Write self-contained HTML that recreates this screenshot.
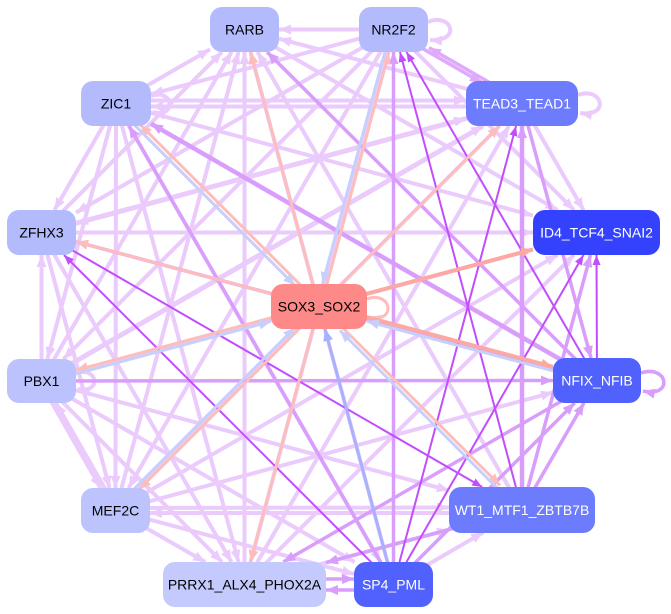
<!DOCTYPE html>
<html><head><meta charset="utf-8"><style>
html,body{margin:0;padding:0;background:#fff;}
svg{display:block;}
.l{stroke:#eacbfc;stroke-width:4;fill:none}
.lt{stroke:#eacbfc;stroke-width:5;fill:none}
.m{stroke:#d99dfc;stroke-width:3.5;fill:none}
.mt{stroke:#d99dfc;stroke-width:4.5;fill:none}
.ml{stroke:#dfaafc;stroke-width:3.5;fill:none}
.d{stroke:#c14dfc;stroke-width:2;fill:none}
.p{stroke:#fdbdbb;stroke-width:3;fill:none}
.pt{stroke:#fca9a3;stroke-width:4;fill:none}
.b{stroke:#c7cffc;stroke-width:3;fill:none}
.bm{stroke:#a8b1fd;stroke-width:3;fill:none}
text{font-family:"Liberation Sans",Arial,sans-serif;font-size:14px;text-anchor:middle;dominant-baseline:central}
</style></head><body>
<svg width="671" height="614" viewBox="0 0 671 614" xmlns="http://www.w3.org/2000/svg">
<defs>
<marker id="aL" markerUnits="userSpaceOnUse" markerWidth="13" markerHeight="11" refX="12" refY="5" orient="auto"><path d="M0,0 L12,5 L0,10 z" fill="#eacbfc"/></marker>
<marker id="aM" markerUnits="userSpaceOnUse" markerWidth="13" markerHeight="11" refX="12" refY="5" orient="auto"><path d="M0,0 L12,5 L0,10 z" fill="#d99dfc"/></marker>
<marker id="aML" markerUnits="userSpaceOnUse" markerWidth="13" markerHeight="11" refX="12" refY="5" orient="auto"><path d="M0,0 L12,5 L0,10 z" fill="#dfaafc"/></marker>
<marker id="aD" markerUnits="userSpaceOnUse" markerWidth="11" markerHeight="9" refX="10" refY="4" orient="auto"><path d="M0,0 L10,4 L0,8 z" fill="#c14dfc"/></marker>
<marker id="aP" markerUnits="userSpaceOnUse" markerWidth="13" markerHeight="11" refX="12" refY="5" orient="auto"><path d="M0,0 L12,5 L0,10 z" fill="#fdbdbb"/></marker>
<marker id="aPT" markerUnits="userSpaceOnUse" markerWidth="13" markerHeight="11" refX="12" refY="5" orient="auto"><path d="M0,0 L12,5 L0,10 z" fill="#fca9a3"/></marker>
<marker id="aB" markerUnits="userSpaceOnUse" markerWidth="13" markerHeight="11" refX="12" refY="5" orient="auto"><path d="M0,0 L12,5 L0,10 z" fill="#c7cffc"/></marker>
<marker id="aBM" markerUnits="userSpaceOnUse" markerWidth="13" markerHeight="11" refX="12" refY="5" orient="auto"><path d="M0,0 L12,5 L0,10 z" fill="#a8b1fd"/></marker>
</defs>

<!-- light lavender edges -->
<g marker-end="url(#aL)">
<line class="l" x1="393.5" y1="29.5" x2="279" y2="29.5"/>
<line class="l" x1="522" y1="103.5" x2="279" y2="38.7"/>
<line class="l" x1="116" y1="103.5" x2="210" y2="49.4"/>
<line class="l" x1="244.5" y1="29.5" x2="557.4" y2="210"/>
<line class="l" x1="522" y1="510" x2="257.5" y2="52"/>
<line class="l" x1="393.5" y1="584.5" x2="250.5" y2="52"/>
<line class="l" x1="244.5" y1="584.5" x2="244.5" y2="52"/>
<line class="l" x1="115.5" y1="510.5" x2="238.5" y2="52"/>
<line class="l" x1="41.5" y1="381" x2="231.5" y2="52"/>
<line class="l" x1="41.5" y1="232.5" x2="222" y2="52"/>
<line class="l" x1="393.5" y1="29.5" x2="574" y2="210"/>
<line class="l" x1="244.5" y1="584.5" x2="387.5" y2="52"/>
<line class="l" x1="393.5" y1="29.5" x2="128.5" y2="488"/>
<line class="l" x1="393.5" y1="29.5" x2="63.5" y2="359"/>
<line class="l" x1="393.5" y1="29.5" x2="76" y2="212.6"/>
<line class="l" x1="393.5" y1="29.5" x2="151" y2="94.2"/>
<line class="l" x1="522" y1="103.5" x2="583.5" y2="210"/>
<line class="l" x1="244.5" y1="584.5" x2="509" y2="126"/>
<line class="l" x1="115.5" y1="510.5" x2="499.5" y2="126"/>
<line class="lt" x1="41.5" y1="381" x2="483" y2="126"/>
<line class="lt" x1="41.5" y1="232.5" x2="466" y2="118.5"/>
<line class="l" x1="522" y1="103.5" x2="76" y2="223.2"/>
<line class="l" x1="116" y1="100.5" x2="466" y2="100.5"/>
<line class="l" x1="522" y1="106.5" x2="151" y2="106.5"/>
<line class="l" x1="244.5" y1="584.5" x2="574" y2="255"/>
<line class="l" x1="115.5" y1="510.5" x2="557.5" y2="255"/>
<line class="l" x1="41.5" y1="381" x2="533" y2="249.5"/>
<line class="l" x1="41.5" y1="232.5" x2="533" y2="232.5"/>
<line class="l" x1="116" y1="103.5" x2="533" y2="215.5"/>
<line class="l" x1="115.5" y1="510.5" x2="553" y2="392.4"/>
<line class="l" x1="393.5" y1="584.5" x2="483.2" y2="532.5"/>
<line class="l" x1="244.5" y1="584.5" x2="449" y2="529.6"/>
<line class="l" x1="115.5" y1="508" x2="449" y2="507.5"/>
<line class="l" x1="522" y1="513" x2="150" y2="513"/>
<line class="l" x1="41.5" y1="381" x2="449" y2="490.4"/>
<line class="l" x1="115.5" y1="510.5" x2="354" y2="574"/>
<line class="l" x1="41.5" y1="381" x2="354.6" y2="562"/>
<line class="l" x1="116" y1="103.5" x2="380.5" y2="562"/>
<line class="l" x1="115.5" y1="510.5" x2="205.3" y2="562"/>
<line class="l" x1="41.5" y1="381" x2="222" y2="562"/>
<line class="l" x1="41.5" y1="232.5" x2="231.5" y2="562"/>
<line class="l" x1="116" y1="103.5" x2="238.5" y2="562"/>
<line class="l" x1="39.5" y1="381" x2="100.6" y2="488"/>
<line class="l" x1="117.5" y1="510.5" x2="56" y2="403"/>
<line class="l" x1="41.5" y1="232.5" x2="109.5" y2="488"/>
<line class="l" x1="116" y1="103.5" x2="115.5" y2="488"/>
<line class="l" x1="41.5" y1="381" x2="41.5" y2="255"/>
<line class="l" x1="116" y1="103.5" x2="47.4" y2="359"/>
<line class="l" x1="116" y1="103.5" x2="54.5" y2="210"/>
<path class="l" d="M428,22 C452,12 462,42 430,40"/>
<path class="l" d="M578,95 C603,86 610,118 580,113"/>
<path class="l" d="M151,96 C173,88 178,118 153,112"/>
<path class="l" d="M76,373 C98,366 102,394 78,389"/>
</g>

<!-- medium edges -->
<g marker-end="url(#aM)">
<line class="m" x1="597" y1="380.5" x2="267.1" y2="52"/>
<line class="m" x1="393.5" y1="584.5" x2="393.5" y2="52"/>
<line class="m" x1="522" y1="103.5" x2="591" y2="358"/>
<line class="mt" x1="522" y1="510" x2="522" y2="126"/>
<line class="m" x1="522" y1="510" x2="590.5" y2="255"/>
<line class="m" x1="522" y1="510" x2="584" y2="403"/>
<line class="m" x1="393.5" y1="584.5" x2="574.6" y2="403"/>
<line class="m" x1="597" y1="380.5" x2="283.3" y2="562"/>
<line class="m" x1="41.5" y1="381" x2="553" y2="380.5"/>
<line class="m" x1="597" y1="380.5" x2="76" y2="241.7"/>
<line class="mt" x1="597" y1="380.5" x2="151" y2="123.7"/>
<line class="m" x1="522" y1="510" x2="326" y2="562.6"/>
<line class="m" x1="393.5" y1="584.5" x2="129" y2="126"/>
<line class="m" x1="244.5" y1="579" x2="354" y2="579"/>
<line class="m" x1="393.5" y1="590" x2="326" y2="590"/>
<path class="m" d="M641,373 C668,364 674,398 643,391"/>
</g>
<g marker-end="url(#aML)">
<line class="ml" x1="392.5" y1="31.2" x2="481.9" y2="82.7"/>
<line class="ml" x1="523" y1="101.8" x2="429" y2="47.7"/>
</g>

<!-- dark edges -->
<g marker-end="url(#aD)">
<line class="d" x1="597" y1="380.5" x2="406.5" y2="52"/>
<line class="d" x1="522" y1="510" x2="400" y2="52"/>
<line class="d" x1="393.5" y1="584.5" x2="516" y2="126"/>
<line class="d" x1="597" y1="380.5" x2="596.5" y2="255"/>
<line class="d" x1="393.5" y1="584.5" x2="583.5" y2="255"/>
<line class="d" x1="41.5" y1="232.5" x2="482.2" y2="487"/>
<line class="d" x1="393.5" y1="584.5" x2="64" y2="255"/>
</g>

<!-- pink / blue edges from SOX3 -->
<g marker-end="url(#aP)">
<line class="p" x1="321" y1="306.5" x2="389" y2="52"/>
<line class="p" x1="319" y1="306.5" x2="250.5" y2="52"/>
<line class="p" x1="319" y1="306.5" x2="499.5" y2="126"/>
<line class="p" x1="320" y1="305" x2="500" y2="485.5"/>
<line class="p" x1="319" y1="306.5" x2="250.5" y2="562"/>
<line class="p" x1="320" y1="308" x2="139" y2="489.5"/>
<line class="p" x1="319" y1="305" x2="76" y2="370.2"/>
<line class="p" x1="319" y1="306.5" x2="76" y2="241.7"/>
<line class="p" x1="320.5" y1="305" x2="140" y2="124.5"/>
<path class="p" d="M367,299 C392,290 397,324 369,317"/>
</g>
<g marker-end="url(#aPT)">
<line class="pt" x1="319" y1="306.5" x2="533" y2="249.4"/>
<line class="pt" x1="319" y1="304.5" x2="553" y2="366.8"/>
</g>
<g marker-end="url(#aB)">
<line class="b" x1="391" y1="29.5" x2="322.5" y2="284"/>
<line class="b" x1="597" y1="382.5" x2="367" y2="321.3"/>
<line class="b" x1="520.5" y1="511.5" x2="340" y2="330.5"/>
<line class="b" x1="114" y1="509" x2="295" y2="327.5"/>
<line class="b" x1="41.5" y1="383" x2="271" y2="321.4"/>
<line class="b" x1="114.5" y1="105" x2="295" y2="285.5"/>
</g>
<g marker-end="url(#aBM)">
<line class="bm" x1="393.5" y1="584.5" x2="325" y2="329"/>
</g>

<!-- nodes -->
<g>
<rect x="210" y="7" width="69" height="45" rx="12" fill="#b3bbfd"/>
<text x="244.5" y="29.5" fill="#000">RARB</text>
<rect x="359" y="7" width="69" height="45" rx="12" fill="#b3bbfd"/>
<text x="393.5" y="29.5" fill="#000">NR2F2</text>
<rect x="81" y="81" width="70" height="45" rx="12" fill="#b3bbfd"/>
<text x="116" y="103.5" fill="#000">ZIC1</text>
<rect x="466" y="81" width="112" height="45" rx="12" fill="#6d7bfd"/>
<text x="522" y="103.5" fill="#fff">TEAD3_TEAD1</text>
<rect x="7" y="210" width="69" height="45" rx="12" fill="#b3bbfd"/>
<text x="41.5" y="232.5" fill="#000">ZFHX3</text>
<rect x="533" y="210" width="127" height="45" rx="12" fill="#3442fd"/>
<text x="596.5" y="232.5" fill="#fff">ID4_TCF4_SNAI2</text>
<rect x="271" y="284" width="96" height="45" rx="12" fill="#fd8a88"/>
<text x="319" y="306.5" fill="#000">SOX3_SOX2</text>
<rect x="7" y="359" width="69" height="44" rx="12" fill="#bbc2fd"/>
<text x="41.5" y="381" fill="#000">PBX1</text>
<rect x="553" y="358" width="88" height="45" rx="12" fill="#5061fd"/>
<text x="597" y="380.5" fill="#fff">NFIX_NFIB</text>
<rect x="81" y="488" width="69" height="45" rx="12" fill="#bcc3fd"/>
<text x="115.5" y="510.5" fill="#000">MEF2C</text>
<rect x="449" y="487" width="146" height="46" rx="12" fill="#6d7bfd"/>
<text x="522" y="510" fill="#fff">WT1_MTF1_ZBTB7B</text>
<rect x="163" y="562" width="163" height="45" rx="12" fill="#c4cafd"/>
<text x="244.5" y="584.5" fill="#000">PRRX1_ALX4_PHOX2A</text>
<rect x="354" y="562" width="79" height="45" rx="12" fill="#5061fd"/>
<text x="393.5" y="584.5" fill="#fff">SP4_PML</text>
</g>
</svg>
</body></html>
